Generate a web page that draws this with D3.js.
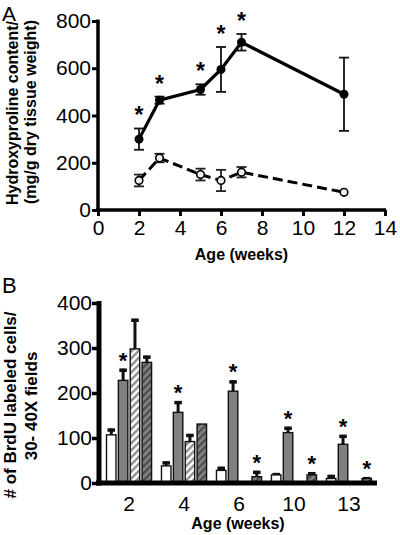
<!DOCTYPE html>
<html><head><meta charset="utf-8">
<script src="https://cdn.jsdelivr.net/npm/d3@7"></script>
<style>body{margin:0;background:#fff}svg{display:block;font-family:"Liberation Sans",Arial,Helvetica,sans-serif}</style>
</head><body><svg id="c" width="400" height="535"></svg>
<script>
// ---- Panel A data ----
const weeksA=[2,3,5,6,7,12];
const solidMean=[300,465,510,595,710,490];
const solidErr=[45,15,22,95,35,155];
const dashedMean=[125,220,150,125,160,75];
const dashedErr=[25,18,25,45,22,0];
const solidSig=[true,true,true,true,true,false];
const xTicksA=[0,2,4,6,8,10,12,14];
const yTicksA=[0,200,400,600,800];
// ---- Panel B data ----
const groupsB=["2","4","6","10","13"];
const seriesB=["white","gray","whiteHatch","grayHatch"];
const whiteVals=[107,38,28,18,10];
const whiteErr=[14,10,8,4,8];
const grayVals=[228,157,204,112,86];
const grayErr=[26,25,24,13,21];
const whiteHatchVals=[298,92,3,3,3];
const whiteHatchErr=[67,17,0,0,0];
const grayHatchVals=[268,131,14,18,10];
const grayHatchErr=[15,0,13,6,3];
const sigGray=[true,true,true,true,true];
const sigGrayHatch=[false,false,true,true,true];
const yTicksB=[0,100,200,300,400];

const svg=d3.select("#c");
const defs=svg.append("defs");
function hatch(id,bg,fg){
  const p=defs.append("pattern").attr("id",id).attr("patternUnits","userSpaceOnUse")
    .attr("width",5).attr("height",5).attr("patternTransform","rotate(45)");
  p.append("rect").attr("width",5).attr("height",5).attr("fill",bg);
  p.append("rect").attr("width",2.4).attr("height",5).attr("fill",fg);
}
hatch("hw","#fff","#8c8c8c");
hatch("hg","#858585","#4d4d4d");

// ================= Panel A =================
const xA=d3.scaleLinear().domain([0,14]).range([98,385]);
const yA=d3.scaleLinear().domain([0,800]).range([210,21]);
const gA=svg.append("g");
const axA=gA.append("g").attr("transform","translate(0,210)")
  .call(d3.axisBottom(xA).tickValues(xTicksA).tickSize(6).tickSizeOuter(0).tickPadding(4));
const ayA=gA.append("g").attr("transform","translate(98,0)")
  .call(d3.axisLeft(yA).tickValues(yTicksA).tickSize(6).tickSizeOuter(0).tickPadding(1));
[axA,ayA].forEach(a=>{
  a.select(".domain").attr("stroke","#000").attr("stroke-width",3.5);
  a.selectAll(".tick line").attr("stroke","#000").attr("stroke-width",3);
  a.selectAll("text").attr("font-size",21).attr("fill","#000").attr("font-family","Liberation Sans, Arial, sans-serif");
});
axA.select(".domain").attr("d","M96,0H386");
ayA.select(".domain").attr("d","M0,211.5V19.5");
axA.selectAll(".tick text").attr("dy","0.72em").attr("y",10);

function errA(means,errs,col){
  weeksA.forEach((w,i)=>{
    if(!errs[i])return;
    const x=xA(w);
    gA.append("line").attr("x1",x).attr("x2",x).attr("y1",yA(means[i]-errs[i])).attr("y2",yA(means[i]+errs[i]))
      .attr("stroke",col).attr("stroke-width",1.8);
    [means[i]-errs[i],means[i]+errs[i]].forEach(v=>{
      gA.append("line").attr("x1",x-5).attr("x2",x+5).attr("y1",yA(v)).attr("y2",yA(v))
        .attr("stroke",col).attr("stroke-width",1.8);
    });
  });
}
errA(solidMean,solidErr,"#111");
errA(dashedMean,dashedErr,"#222");
const lineA=d3.line().x((d,i)=>xA(weeksA[i])).y(d=>yA(d));
gA.append("path").datum(dashedMean).attr("d",lineA).attr("fill","none").attr("stroke","#000")
  .attr("stroke-width",3).attr("stroke-dasharray","10,5");
gA.append("path").datum(solidMean).attr("d",lineA).attr("fill","none").attr("stroke","#000").attr("stroke-width",3.2);
gA.selectAll(".od").data(dashedMean).enter().append("circle")
  .attr("cx",(d,i)=>xA(weeksA[i])).attr("cy",d=>yA(d)).attr("r",3.8)
  .attr("fill","#eee").attr("stroke","#000").attr("stroke-width",1.6);
gA.selectAll(".sd").data(solidMean).enter().append("circle")
  .attr("cx",(d,i)=>xA(weeksA[i])).attr("cy",d=>yA(d)).attr("r",4.5).attr("fill","#000");
solidMean.forEach((m,i)=>{
  if(!solidSig[i])return;
  gA.append("text").attr("x",xA(weeksA[i])).attr("y",yA(m+solidErr[i])-5).attr("text-anchor","middle")
    .attr("font-size",23).attr("font-weight","bold").text("*");
});
gA.append("text").attr("x",2).attr("y",21).attr("font-size",21).text("A");
gA.append("text").attr("x",xA(7)).attr("y",260).attr("text-anchor","middle").attr("font-size",16).attr("font-weight","bold").text("Age (weeks)");
gA.append("text").attr("transform","translate(18,113) rotate(-90)").attr("text-anchor","middle")
  .attr("font-size",16).attr("font-weight","bold").text("Hydroxyproline content/");
gA.append("text").attr("transform","translate(36,112) rotate(-90)").attr("text-anchor","middle")
  .attr("font-size",16).attr("font-weight","bold").text("(mg/g dry tissue weight)");

// ================= Panel B =================
const x0=d3.scaleBand().domain(groupsB).range([101,377]).paddingInner(0.18).paddingOuter(0.1);
const x1=d3.scaleBand().domain(seriesB).range([0,x0.bandwidth()]).paddingInner(0.2);
const yB=d3.scaleLinear().domain([0,400]).range([483,303]);
const gB=svg.append("g");
const vals={white:whiteVals,gray:grayVals,whiteHatch:whiteHatchVals,grayHatch:grayHatchVals};
const errs={white:whiteErr,gray:grayErr,whiteHatch:whiteHatchErr,grayHatch:grayHatchErr};
const fills={white:"#fff",gray:"#808080",whiteHatch:"url(#hw)",grayHatch:"url(#hg)"};
groupsB.forEach((g,gi)=>{
  seriesB.forEach(s=>{
    const v=vals[s][gi], e=errs[s][gi];
    const x=x0(g)+x1(s), w=x1.bandwidth(), cx=x+w/2;
    if(e){
      gB.append("line").attr("x1",cx).attr("x2",cx).attr("y1",yB(v)).attr("y2",yB(v+e)).attr("stroke","#111").attr("stroke-width",3);
      gB.append("line").attr("x1",cx-3.8).attr("x2",cx+3.8).attr("y1",yB(v+e)+1.5).attr("y2",yB(v+e)+1.5).attr("stroke","#111").attr("stroke-width",3.5);
    }
    gB.append("rect").attr("x",x).attr("y",yB(v)).attr("width",w).attr("height",yB(0)-yB(v))
      .attr("fill",fills[s]).attr("stroke","#111").attr("stroke-width",1.4);
    const sig=(s==="gray"&&sigGray[gi])||(s==="grayHatch"&&sigGrayHatch[gi]);
    if(sig){
      gB.append("text").attr("x",cx).attr("y",yB(v+e)-1).attr("text-anchor","middle")
        .attr("font-size",22).attr("font-weight","bold").text("*");
    }
  });
});
const axB=gB.append("g").attr("transform","translate(0,483)")
  .call(d3.axisBottom(x0).tickSize(0).tickSizeOuter(0).tickPadding(8));
const ayB=gB.append("g").attr("transform","translate(99,0)")
  .call(d3.axisLeft(yB).tickValues(yTicksB).tickSize(7).tickSizeOuter(0).tickPadding(0));
[axB,ayB].forEach(a=>{
  a.select(".domain").attr("stroke","#000").attr("stroke-width",5);
  a.selectAll(".tick line").attr("stroke","#000").attr("stroke-width",3.5);
  a.selectAll("text").attr("font-size",21).attr("fill","#000").attr("font-family","Liberation Sans, Arial, sans-serif");
});
axB.select(".domain").attr("d","M96,0H377");
ayB.select(".domain").attr("d","M0,485.5V301");
axB.selectAll(".tick text").attr("dy","0.72em").attr("y",13);
gB.append("text").attr("x",238).attr("y",529).attr("text-anchor","middle").attr("font-size",16).attr("font-weight","bold").text("Age (weeks)");
gB.append("text").attr("x",2).attr("y",293).attr("font-size",22).text("B");
gB.append("text").attr("transform","translate(16,405) rotate(-90)").attr("text-anchor","middle")
  .attr("font-size",17).attr("font-weight","bold").text("# of BrdU labeled cells/");
gB.append("text").attr("transform","translate(37,406) rotate(-90)").attr("text-anchor","middle")
  .attr("font-size",17).attr("font-weight","bold").text("30- 40X fields");
</script></body></html>
